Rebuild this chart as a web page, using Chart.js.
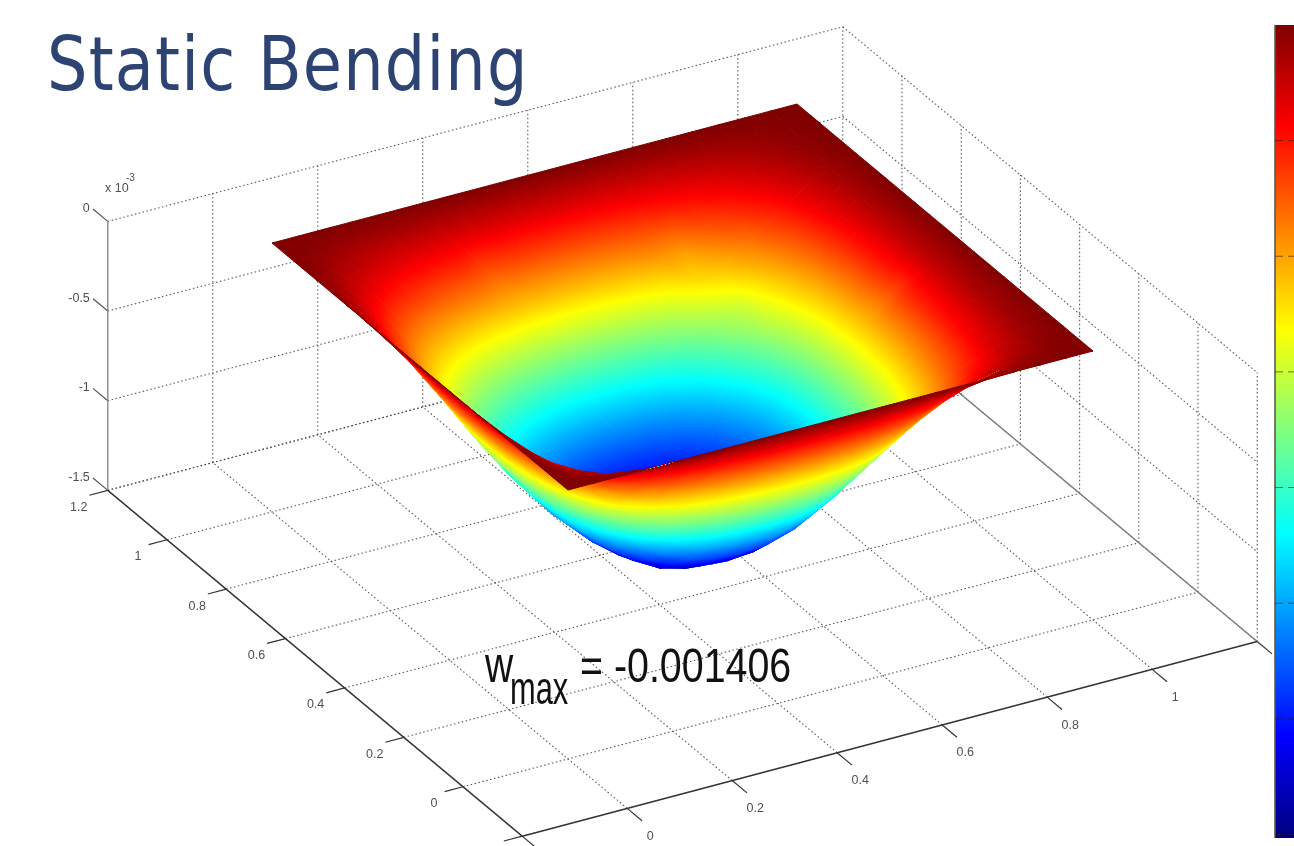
<!DOCTYPE html>
<html>
<head>
<meta charset="utf-8">
<title>Static Bending</title>
<script src="https://cdn.jsdelivr.net/npm/chart.js@4/dist/chart.umd.js"></script>
<style>
  html, body { margin: 0; padding: 0; background: #fff; overflow: hidden; }
  canvas { display: block; }
</style>
</head>
<body>
<canvas id="bendingChart" width="1294" height="846"></canvas>
<script>
// plate grid, in metres
const gridX = [0, .05, .1, .15, .2, .25, .3, .35, .4, .45, .5, .55, .6, .65, .7, .75, .8, .85, .9, .95, 1];
const gridY = [0, .05, .1, .15, .2, .25, .3, .35, .4, .45, .5, .55, .6, .65, .7, .75, .8, .85, .9, .95, 1];

// downward deflection, x 10^-6 (row = y, column = x)
const deflection = [
  [0, 0, 0, 0, 0, 0, 0, 0, 0, 0, 0, 0, 0, 0, 0, 0, 0, 0, 0, 0, 0],
  [0, 28, 59, 91, 118, 142, 161, 177, 189, 195, 197, 195, 187, 171, 150, 124, 95, 63, 33, 12, 0],
  [0, 59, 127, 194, 253, 304, 346, 380, 405, 418, 422, 418, 401, 367, 321, 266, 203, 135, 72, 25, 0],
  [0, 91, 194, 298, 388, 466, 530, 582, 621, 640, 647, 640, 615, 563, 492, 408, 311, 207, 110, 39, 0],
  [0, 118, 253, 388, 506, 607, 692, 759, 810, 835, 844, 835, 802, 734, 641, 532, 405, 270, 143, 50, 0],
  [0, 142, 304, 466, 607, 729, 830, 911, 972, 1002, 1012, 1002, 962, 881, 770, 638, 486, 324, 172, 60, 0],
  [0, 161, 346, 530, 692, 830, 945, 1037, 1107, 1141, 1153, 1141, 1096, 1003, 877, 727, 554, 369, 196, 69, 0],
  [0, 177, 380, 582, 759, 911, 1037, 1139, 1215, 1253, 1265, 1253, 1202, 1101, 962, 797, 608, 405, 215, 76, 0],
  [0, 189, 405, 621, 810, 972, 1107, 1215, 1296, 1336, 1350, 1336, 1283, 1174, 1026, 851, 648, 432, 229, 81, 0],
  [0, 195, 418, 640, 835, 1002, 1141, 1253, 1336, 1378, 1392, 1378, 1323, 1211, 1058, 877, 668, 445, 237, 84, 0],
  [0, 197, 422, 647, 844, 1012, 1153, 1265, 1350, 1392, 1406, 1392, 1336, 1223, 1069, 886, 675, 450, 280, 84, 0],
  [0, 195, 418, 640, 835, 1002, 1141, 1253, 1336, 1378, 1392, 1378, 1323, 1211, 1058, 877, 668, 445, 237, 84, 0],
  [0, 187, 401, 615, 802, 962, 1096, 1202, 1283, 1323, 1336, 1323, 1269, 1162, 1015, 842, 641, 428, 227, 80, 0],
  [0, 171, 367, 563, 734, 881, 1003, 1101, 1174, 1211, 1223, 1211, 1162, 1064, 930, 771, 587, 392, 208, 73, 0],
  [0, 150, 321, 492, 641, 770, 877, 962, 1026, 1058, 1069, 1058, 1015, 930, 812, 673, 513, 342, 182, 64, 0],
  [0, 124, 266, 408, 532, 638, 727, 797, 851, 877, 886, 877, 842, 771, 673, 600, 425, 284, 151, 53, 0],
  [0, 95, 203, 311, 405, 486, 554, 608, 648, 668, 675, 668, 641, 587, 490, 425, 324, 216, 115, 40, 0],
  [0, 63, 135, 207, 270, 324, 369, 405, 432, 445, 450, 445, 428, 392, 395, 284, 216, 144, 76, 27, 0],
  [0, 37, 81, 123, 160, 193, 220, 275, 256, 265, 268, 265, 254, 233, 204, 169, 129, 85, 46, 16, 0],
  [0, 17, 35, 55, 70, 84, 97, 106, 113, 118, 118, 118, 112, 102, 90, 74, 56, 38, 20, 7, 0],
  [0, 0, 0, 0, 0, 0, 0, 0, 0, 0, 0, 0, 0, 0, 0, 0, 0, 0, 0, 0, 0]
];

const xTicks = [-0.2, 0, 0.2, 0.4, 0.6, 0.8, 1, 1.2];
const xTickLabels = ["", "0", "0.2", "0.4", "0.6", "0.8", "1", ""];
const yTicks = [-0.2, 0, 0.2, 0.4, 0.6, 0.8, 1, 1.2];
const yTickLabels = ["", "0", "0.2", "0.4", "0.6", "0.8", "1", "1.2"];
const zTicks = [0, -0.5, -1, -1.5];
const zTickLabels = ["0", "-0.5", "-1", "-1.5"];
const colorbarTicks = [-0.2, -0.4, -0.6, -0.8, -1, -1.2, -1.4];

const wMax = -1.406;
const jetStops = [[0, "#00007f"], [0.125, "#0000ff"], [0.375, "#00ffff"], [0.625, "#ffff00"], [0.875, "#ff0000"], [1, "#7f0000"]];

// view of the 3D box, worked out from the box corners in the picture
const project = (x, y, z) => ({
  x: 568 + 525 * x - 296 * y,
  y: 490 - 139 * x - 247 * y - 179.3 * z
});

const jetAt = (t) => {
  t = Math.min(1, Math.max(0, t));
  const hex = (c, i) => parseInt(c.substr(1 + i * 2, 2), 16);
  for (let i = 1; i < jetStops.length; i++) {
    if (t <= jetStops[i][0]) {
      const f = (t - jetStops[i - 1][0]) / (jetStops[i][0] - jetStops[i - 1][0]);
      const mix = (k) => Math.round(hex(jetStops[i - 1][1], k) + f * (hex(jetStops[i][1], k) - hex(jetStops[i - 1][1], k)));
      return `rgb(${mix(0)},${mix(1)},${mix(2)})`;
    }
  }
  return jetStops[5][1];
};

// a linear gradient is exact for a value that varies linearly over a triangle
const triangleShade = (chart, a, b, c) => {
  const flat = jetAt((a.t + b.t + c.t) / 3);
  if (!chart.chartArea) return flat;
  const sx = chart.scales.x, sy = chart.scales.y;
  const ax = sx.getPixelForValue(a.x), ay = sy.getPixelForValue(a.y);
  const bx = sx.getPixelForValue(b.x) - ax, by = sy.getPixelForValue(b.y) - ay;
  const cx = sx.getPixelForValue(c.x) - ax, cy = sy.getPixelForValue(c.y) - ay;
  const det = bx * cy - by * cx;
  if (Math.abs(det) < 0.5) return flat;
  const gx = ((b.t - a.t) * cy - (c.t - a.t) * by) / det;
  const gy = ((c.t - a.t) * bx - (b.t - a.t) * cx) / det;
  const g2 = gx * gx + gy * gy;
  if (g2 < 1e-9) return flat;
  const from = (0 - a.t) / g2, to = (1 - a.t) / g2;
  const grad = chart.ctx.createLinearGradient(ax + gx * from, ay + gy * from, ax + gx * to, ay + gy * to);
  jetStops.forEach((s) => grad.addColorStop(s[0], s[1]));
  return grad;
};

const triangleDataset = (a, b, c) => {
  const shade = (ctx) => triangleShade(ctx.chart, a, b, c);
  return {
    data: [a, b, c, a].map((p) => ({ x: p.x, y: p.y })),
    showLine: true,
    fill: "shape",
    tension: 0,
    pointRadius: 0,
    borderWidth: 1,
    backgroundColor: shade,
    borderColor: shade
  };
};

const lineDataset = (from, to, color, width, dash) => ({
  data: [project(...from), project(...to)],
  showLine: true,
  tension: 0,
  pointRadius: 0,
  borderWidth: width,
  borderColor: color,
  borderDash: dash || []
});

const datasets = [];

// Chart.js paints the first dataset last, so the front cells go first
const node = (i, j) => {
  const w = -deflection[j][i] / 1000;
  const p = project(gridX[i], gridY[j], w);
  return { x: p.x, y: p.y, t: (w - wMax) / -wMax };
};
for (let i = 0; i < gridX.length - 1; i++) {
  for (let j = 0; j < gridY.length - 1; j++) {
    datasets.push(triangleDataset(node(i, j), node(i + 1, j), node(i, j + 1)));
    datasets.push(triangleDataset(node(i + 1, j + 1), node(i + 1, j), node(i, j + 1)));
  }
}

const dotted = [1.5, 2.5];
const gridColor = "rgba(60,60,60,0.85)";
const xMin = -0.2, xMax = 1.2, yMin = -0.2, yMax = 1.2, zTop = 0, zBottom = -1.5;

// axes and tick marks
datasets.push(lineDataset([xMin, yMax, zBottom], [xMin, yMin, zBottom], "#333", 1.4));
datasets.push(lineDataset([xMin, yMin, zBottom], [xMax, yMin, zBottom], "#333", 1.6));
datasets.push(lineDataset([xMin, yMax, zTop], [xMin, yMax, zBottom], "#8a8a8a", 1.4));
datasets.push(lineDataset([xMax, yMin, zBottom], [xMax, yMax, zBottom], "#808080", 1.2));
xTicks.forEach((x) => datasets.push(lineDataset([x, yMin, zBottom], [x, yMin - 0.05, zBottom], "#333", 1.2)));
yTicks.forEach((y) => datasets.push(lineDataset([xMin, y, zBottom], [xMin - 0.035, y, zBottom], "#333", 1.2)));
zTicks.forEach((z) => datasets.push(lineDataset([xMin, yMax, z], [xMin, yMax + 0.05, z], "#555", 1.2)));

// floor and back wall grids
xTicks.slice(1).forEach((x) => {
  datasets.push(lineDataset([x, yMin, zBottom], [x, yMax, zBottom], gridColor, 1.1, dotted));
  datasets.push(lineDataset([x, yMax, zBottom], [x, yMax, zTop], gridColor, 1.1, dotted));
});
yTicks.slice(1).forEach((y) => {
  datasets.push(lineDataset([xMin, y, zBottom], [xMax, y, zBottom], gridColor, 1.1, dotted));
});
yTicks.slice(0, -1).forEach((y) => {
  datasets.push(lineDataset([xMax, y, zBottom], [xMax, y, zTop], gridColor, 1.1, dotted));
});
zTicks.forEach((z) => {
  datasets.push(lineDataset([xMin, yMax, z], [xMax, yMax, z], gridColor, 1.1, dotted));
  datasets.push(lineDataset([xMax, yMax, z], [xMax, yMin, z], gridColor, 1.1, dotted));
});

// colorbar on its own value axis
const barLeft = 1275, barRight = 1294;
colorbarTicks.forEach((v) => {
  datasets.push({
    data: [{ x: barLeft, y: v }, { x: barRight, y: v }],
    yAxisID: "bar",
    showLine: true,
    pointRadius: 0,
    borderWidth: 1,
    borderDash: [8, 5],
    borderColor: "rgba(40,30,20,0.6)"
  });
});
datasets.push({
  data: [{ x: barLeft, y: 0 }, { x: barLeft, y: wMax }],
  yAxisID: "bar",
  showLine: true,
  pointRadius: 0,
  borderWidth: 1,
  borderColor: "rgba(90,90,70,0.8)"
});
const barShade = (ctx) => {
  const chart = ctx.chart;
  if (!chart.chartArea) return "#888";
  const s = chart.scales.bar;
  const grad = chart.ctx.createLinearGradient(0, s.getPixelForValue(wMax), 0, s.getPixelForValue(0));
  jetStops.forEach((st) => grad.addColorStop(st[0], st[1]));
  return grad;
};
datasets.push({
  data: [{ x: barLeft, y: 0 }, { x: barRight, y: 0 }, { x: barRight, y: wMax }, { x: barLeft, y: wMax }, { x: barLeft, y: 0 }],
  yAxisID: "bar",
  showLine: true,
  fill: "shape",
  tension: 0,
  pointRadius: 0,
  borderWidth: 0,
  backgroundColor: barShade
});

const stretchedText = (ctx, text, left, baseline, font, color, scaleX, spacing) => {
  ctx.save();
  ctx.font = font;
  ctx.fillStyle = color;
  ctx.textAlign = "left";
  ctx.textBaseline = "alphabetic";
  if (spacing) ctx.letterSpacing = spacing;
  ctx.translate(left, baseline);
  ctx.scale(scaleX, 1);
  ctx.fillText(text, 0, 0);
  ctx.restore();
};

const chartTexts = {
  id: "chartTexts",
  afterDatasetsDraw(chart) {
    const ctx = chart.ctx;
    const sx = chart.scales.x, sy = chart.scales.y;
    const at = (x, y, z) => {
      const p = project(x, y, z);
      return { x: sx.getPixelForValue(p.x), y: sy.getPixelForValue(p.y) };
    };
    ctx.save();
    ctx.font = "12.5px 'Liberation Sans'";
    ctx.fillStyle = "#505050";
    ctx.textBaseline = "middle";
    ctx.textAlign = "center";
    xTicks.forEach((x, i) => {
      const p = at(x, yMin, zBottom);
      ctx.fillText(xTickLabels[i], p.x + 23, p.y + 28);
    });
    yTicks.forEach((y, i) => {
      const p = at(xMin, y, zBottom);
      ctx.fillText(yTickLabels[i], p.x - 29, p.y + 17);
    });
    ctx.textAlign = "right";
    zTicks.forEach((z, i) => {
      const p = at(xMin, yMax, z);
      ctx.fillText(zTickLabels[i], p.x - 18, p.y - 13);
    });
    ctx.textAlign = "left";
    ctx.fillText("x 10", 105, 189);
    ctx.font = "10px 'Liberation Sans'";
    ctx.fillText("-3", 126, 178);
    ctx.restore();

    stretchedText(ctx, "Static Bending", 47, 90, "75px 'DejaVu Sans'", "#2d4373", 0.85, "1.4px");
    stretchedText(ctx, "w", 485, 682, "52px 'Liberation Sans'", "#111", 0.75);
    stretchedText(ctx, "max", 510, 704, "46px 'Liberation Sans'", "#111", 0.67);
    stretchedText(ctx, "= -0.001406", 580, 682, "48px 'Liberation Sans'", "#111", 0.82);
  }
};

new Chart(document.getElementById("bendingChart"), {
  type: "scatter",
  data: { datasets: datasets },
  options: {
    responsive: false,
    animation: false,
    events: [],
    layout: { padding: 0 },
    plugins: { legend: { display: false }, tooltip: { enabled: false }, title: { display: false } },
    scales: {
      x: { type: "linear", min: 0, max: 1294, display: false },
      y: { type: "linear", min: 0, max: 846, reverse: true, display: false },
      bar: { type: "linear", min: -1.42, max: 0.0432, display: false }
    }
  },
  plugins: [chartTexts]
});
</script>
</body>
</html>
